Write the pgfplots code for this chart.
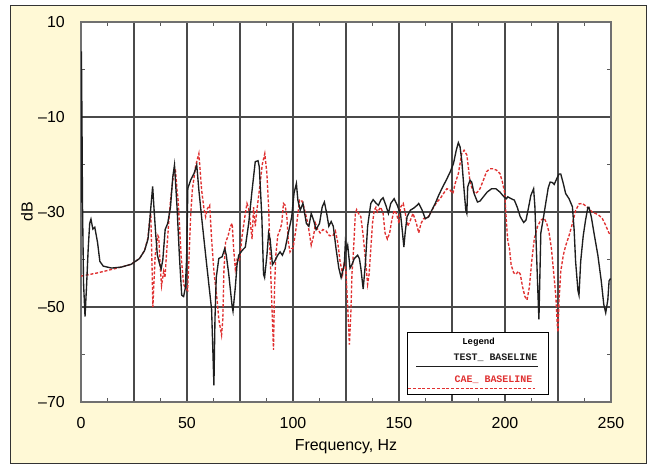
\documentclass[border=0pt]{standalone}
\usepackage{fontspec}
\setmainfont{Liberation Sans}
\newfontfamily\legfont{Liberation Mono}
\usepackage{pgfplots}
\pgfplotsset{compat=1.18}
\usepackage{pgfplotstable}
\definecolor{panel}{HTML}{FFF9D6}
\definecolor{cae}{HTML}{E03030}
\definecolor{testc}{HTML}{1E1E1E}
\definecolor{gridc}{HTML}{4A4A4A}
\definecolor{framec}{HTML}{707070}

\pgfplotstableread{
f db
0 -28
0.2 3.8
0.45 -10
0.7 -28
1.2 -45
1.9 -52
2.6 -45.8
3.4 -37.7
4.1 -32.4
4.7 -31.5
5.6 -33.6
6.5 -33.2
7.8 -36.4
8.9 -40.4
10.5 -41.4
14.4 -41.8
19 -41.6
23.7 -41
27.6 -39.8
30 -38.1
31.6 -35.7
32.3 -32.4
33.1 -28.2
33.8 -24.6
34.4 -29
35.2 -34.4
36 -39
37 -40.8
37.8 -42
38.6 -40
39.7 -33.7
40.9 -32.4
42.2 -29
43.3 -22.6
44.1 -20.1
45.3 -29
46.4 -39.1
47.5 -47.5
48.4 -47.8
49.2 -46
49.8 -40
50.4 -25
51.7 -23.3
53.3 -21.9
54.6 -20.1
55.6 -25.4
57.2 -32.4
58.8 -39.1
60.3 -45.2
61.6 -50.5
62.2 -59.2
62.7 -66.5
63.2 -52.4
63.8 -43.8
65 -39.8
66.6 -39.4
67.8 -37.7
68.5 -39
69.7 -43.1
71.3 -49.9
71.7 -50.9
72.8 -45.8
73.6 -41.1
74.4 -39.1
76 -38.1
77.5 -37.4
79.1 -32.4
80.7 -25.4
82.2 -19.4
83.5 -19.2
84.1 -20.5
85.3 -31
86.1 -43.1
86.6 -43.8
87.7 -39.1
88.5 -34.4
89.2 -35.7
90.3 -41.1
91.3 -40.4
92.8 -39.1
93.9 -38.4
95 -39.1
96.3 -37.7
97.8 -34.4
99.4 -31
100.5 -26
101.6 -24
102.3 -27.5
103.4 -29.6
104.7 -28.2
106.3 -32.4
107.5 -33
108.6 -30.3
109.7 -31.7
110.9 -33.7
112.5 -32.4
113.8 -28.9
114.8 -27.9
115.9 -30.3
116.9 -33
118 -32
119 -33
120.3 -37.7
121.6 -41.8
122.7 -43.8
123.4 -42.5
124.2 -41.1
124.7 -36.4
125.3 -37.8
125.8 -37
126.9 -41.8
127.8 -41.1
128.9 -39.8
130.5 -39.1
131.3 -39.8
132 -41.8
133.1 -46.2
134.1 -41.1
135.2 -33
136.7 -28.2
137.8 -27.4
139.1 -28.1
140.3 -28.6
141.4 -27.5
142.5 -27
143.8 -28.6
145 -30.3
146.1 -28.2
147.7 -27.2
149.2 -28.6
150 -29.6
150.7 -30.3
151.5 -33.7
152.3 -37.4
152.9 -34.4
153.8 -31
155.4 -29.6
156.9 -29.2
158.5 -28.6
159.3 -28.2
160.9 -29.6
162.4 -31.4
164 -31
165.5 -29.6
167.1 -28.2
168.7 -26.5
170.2 -25.1
172.6 -23
174.1 -21.6
175.7 -19.8
177 -17
178 -15.4
178.8 -16.3
179.6 -19.1
180.7 -25.4
181.5 -29.6
182 -30.3
182.4 -24.7
183.5 -23.3
184.3 -23.7
185.4 -26.1
187 -27.9
188.2 -27.7
189.8 -26.8
191.6 -25.8
193.7 -25.1
195.7 -25.1
197.6 -25.8
199.5 -26.8
200.7 -27.2
201.3 -26.8
202.9 -27.2
204.4 -27.5
205.7 -28.9
207.2 -31
208.8 -32.2
209.9 -31.7
211 -29.3
212.2 -26.5
213.5 -25.1
214.1 -28.9
214.9 -39.1
215.7 -49.2
216 -52.6
216.5 -42.5
216.9 -34.4
218.2 -31
219.3 -27.9
220.4 -24.9
221.3 -23.7
222.4 -23.8
223.2 -24.2
224.4 -23
225.5 -22
226.3 -22
227.5 -24
228.6 -26.1
230.2 -27.2
231.8 -28.9
232.6 -33.7
233.3 -40.4
234.4 -46.5
234.9 -47.5
235.7 -40.4
236.9 -35
238 -31.7
239.1 -29
239.6 -29
240.7 -31
242.2 -35
243.8 -39.1
245.4 -44.5
246.6 -49.5
247.5 -51.2
248.5 -48.5
249.1 -44.5
249.8 -44
}\testdata

\pgfplotstableread{
f db
0 -43.5
8 -42.8
14.4 -42.1
19 -41.6
23.7 -41
27.6 -39.8
30 -38.1
31.6 -35.4
32.3 -32
32.9 -30.3
33.4 -39.1
33.9 -50
34.5 -44
35 -39.1
36.3 -35
36.7 -35.4
37.4 -41.8
38 -45.5
39 -42.5
39.6 -43.8
40.5 -37.7
41.7 -30.3
42.4 -26.8
43.3 -23.3
44.1 -21
44.5 -20.8
45.3 -25.4
45.8 -27.5
46.4 -32.4
47.2 -39.1
48.4 -45.2
49.5 -46.2
50.3 -46.5
51 -39.1
51.7 -31
52.5 -25.4
54.1 -20.2
55.6 -17.7
56.9 -25.4
58 -29.3
58.8 -31
59.6 -29.3
60.7 -28.6
61.1 -31.7
61.6 -35.7
62.7 -42.5
64.2 -48.5
65 -52.6
66.3 -55.9
66.9 -52.6
67.4 -42.5
68.2 -36.4
69.4 -35
70.5 -33
71.3 -32.4
72 -37.7
72.8 -42
73.6 -40
74.7 -40.4
76 -35
77.5 -30.3
78.3 -28.2
79.1 -29.3
79.9 -32.4
80.7 -35.7
81.4 -29
82.2 -33
83 -29.5
84.5 -24
85.5 -20
86.7 -17.7
87.7 -22
88.5 -29
89.2 -39.1
90 -49.2
90.8 -59
91.3 -45.8
91.9 -39.1
92.8 -35
93.9 -33.7
94.7 -32.4
95.5 -28.2
96.3 -28.6
97.1 -31
97.8 -36.4
98.6 -38.4
99.4 -37.7
100 -37.7
101.6 -33
103.1 -27.5
104 -27.5
104.7 -28.2
105.5 -29.6
107 -32.4
108.6 -37
109.7 -35
110.6 -32.4
111.7 -33.7
112.8 -34.4
114.1 -33.7
115.6 -34
117.2 -35
118.8 -35
120 -34
121.1 -36.4
122.2 -40.4
123.4 -43.1
124.2 -40.4
125 -42.5
125.8 -49.9
126.6 -57.9
127.3 -51.2
127.8 -43.1
128.4 -39.1
128.9 -35
129.4 -30.3
130 -29.5
130.9 -30.3
132 -31
133.1 -35
134.4 -41.1
135.2 -45.2
135.9 -43.1
136.7 -37.7
137.5 -32.4
138.3 -29.7
139.1 -29
139.8 -30
141.4 -29
142.5 -30.3
143.4 -34.4
144.5 -35.7
145.6 -34.4
146.6 -31.7
147.7 -29.7
148.8 -30.3
150 -32.4
150.7 -29
152 -28.2
153 -30.3
154.1 -33
155.4 -31.7
156.6 -30.3
158.2 -32.4
159.3 -34.4
160.4 -32.4
161.6 -31.4
163.2 -31.4
164.8 -30.3
166.3 -29
167.9 -27.9
169.4 -27.2
171 -26.1
172.6 -25.1
174.1 -25.4
175.4 -26.1
176.5 -24
178 -21.9
179.6 -17.7
180.7 -17
182 -18
182.7 -20.5
183.5 -23.7
184.8 -25.4
185.9 -26.1
187 -25.8
188.2 -25.1
189.8 -23.3
191.3 -21.5
192.9 -20.9
194.5 -20.9
196 -21.2
197.6 -21.9
198.8 -23.7
199.9 -26.1
200.7 -32.4
201.3 -36
202.1 -37.7
202.9 -41.1
204.1 -42.8
205.2 -43.1
206.3 -42.5
207.2 -43.1
208.3 -45.8
209.4 -47.8
210.4 -48.5
211.5 -45.8
212.6 -40.4
213.8 -35.7
215.4 -33
216.9 -31.7
218.5 -31.3
219.7 -32.4
220.8 -34.4
221.9 -37.7
222.9 -42.5
224 -47.8
224.7 -53.9
225 -55.3
225.5 -48.5
226.3 -42.5
227.5 -39.1
228.6 -37.1
230.2 -35
231.8 -32.4
233.3 -29.7
234.9 -28.3
236.5 -28.2
238 -28.7
239.6 -29.3
241.1 -30
242.7 -30.3
244.3 -30.7
245.8 -31.3
247.4 -32.7
249 -34.4
250 -34.8
}\caedata

\begin{document}
\begin{tikzpicture}
\useasboundingbox (0,0) rectangle (648bp,466bp);
\fill[white] (0,0) rectangle (648bp,466bp);
\filldraw[fill=panel, draw=black!80, line width=1bp] (10bp,2bp) rectangle (646bp,460bp);
\begin{axis}[
  at={(81bp,64bp)}, anchor=south west,
  scale only axis, width=530bp, height=380bp,
  xmin=0, xmax=250, ymin=-70, ymax=10,
  xtick={0,25,...,250},
  xticklabels={0,,50,,100,,150,,200,,250},
  ytick={-70,-50,-30,-10,10},
  yticklabels={–70,–50,–30,–10,10},
  minor x tick num=1, minor y tick num=1,
  major tick length=0pt, minor tick length=4bp,
  grid=major,
  major grid style={draw=gridc, line width=2bp},
  axis line style={draw=framec, line width=2bp},
  axis background/.style={fill=white},
  minor tick style={draw=black!65, line width=1bp},
  ticklabel style={font=\fontsize{16}{19}\selectfont},
  xticklabel style={anchor=center, yshift=-21bp},
  yticklabel style={anchor=east, inner sep=0pt, xshift=-16bp},
  xlabel={Frequency, Hz},
  ylabel={dB},
  label style={font=\fontsize{16}{19}\selectfont},
  xlabel style={at={(axis description cs:0.5,-0.1184)}, anchor=center},
  ylabel style={at={(axis description cs:-0.1019,0.5)}, anchor=center},
  clip=true,
]
\addplot[draw=cae, line width=1.35bp, dash pattern=on 3bp off 1.8bp, mark=none] table[x=f,y=db] {\caedata};
\addplot[draw=testc, line width=1.35bp, mark=none] table[x=f,y=db] {\testdata};
\end{axis}
% legend box
\filldraw[fill=white, draw=black, line width=1bp] (407bp,71bp) rectangle (548.7bp,133.3bp);
\node[font=\legfont\bfseries\fontsize{9}{11}\selectfont, inner sep=0pt] at (478.5bp,123.3bp) {Legend};
\node[font=\legfont\bfseries\fontsize{10}{12}\selectfont, inner sep=0pt, text=testc] at (495.5bp,108.7bp) {TEST\_ BASELINE};
\draw[draw=testc, line width=1.3bp] (416bp,99.3bp) -- (538bp,99.3bp);
\node[font=\legfont\bfseries\fontsize{10}{12}\selectfont, inner sep=0pt, text=cae] at (493.5bp,86.7bp) {CAE\_ BASELINE};
\draw[draw=cae, line width=1.3bp, dash pattern=on 3bp off 1.8bp] (408bp,77.7bp) -- (535bp,77.7bp);
\end{tikzpicture}
\end{document}
